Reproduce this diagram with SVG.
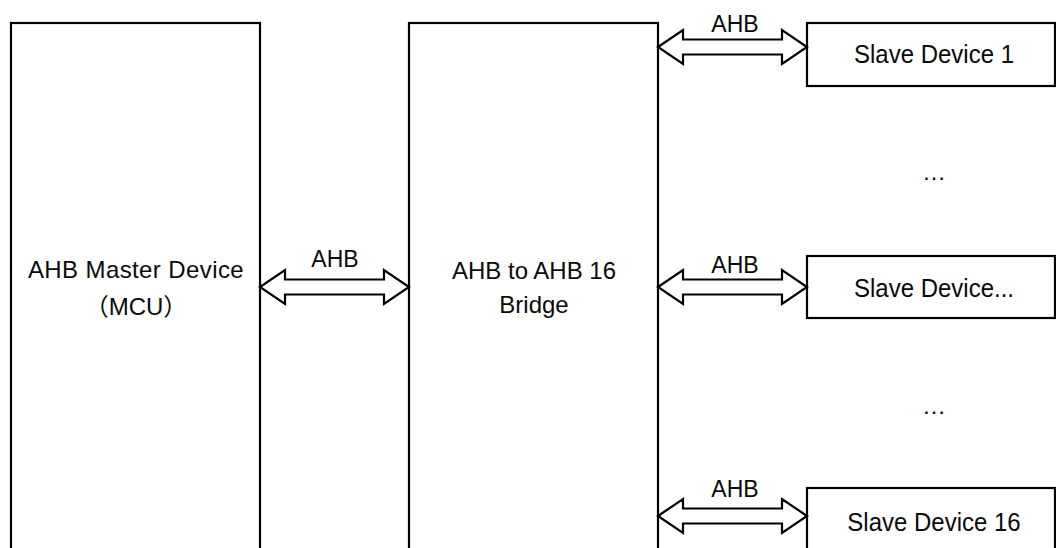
<svg xmlns="http://www.w3.org/2000/svg" width="1056" height="548" viewBox="0 0 1056 548">
<style>
.box{fill:#ffffff;stroke:#000000;stroke-width:2.2}
.arr{fill:#ffffff;stroke:#000000;stroke-width:2.2;stroke-linejoin:miter}
text{font-family:"Liberation Sans","Noto Sans CJK SC",sans-serif;font-size:24px;fill:#0a0a0a;text-anchor:middle}
.lbl{font-size:23px}
</style>
<rect width="1056" height="548" fill="#ffffff"/>
<g id="master">
<rect class="box" x="11" y="23" width="249" height="545"/>
<text x="136" y="278" letter-spacing="0.4">AHB Master Device</text>
<text x="136" y="315">（MCU）</text>
</g>
<g id="bridge">
<rect class="box" x="409" y="23" width="249" height="545"/>
<text x="534" y="279">AHB to AHB 16</text>
<text x="534" y="313">Bridge</text>
</g>
<g id="slave1">
<rect class="box" x="807" y="23" width="248" height="63"/>
<text transform="translate(934,63.3) scale(1,1.1)">Slave Device 1</text>
</g>
<g id="slave2">
<rect class="box" x="807" y="256" width="248" height="62"/>
<text transform="translate(934,297) scale(1,1.1)">Slave Device...</text>
</g>
<g id="slave16">
<rect class="box" x="807" y="488" width="248" height="80"/>
<text transform="translate(934,531) scale(1,1.1)">Slave Device 16</text>
</g>
<g id="dots">
<text x="934" y="180">…</text>
<text x="934" y="414">…</text>
</g>
<g id="connectors">
<path class="arr" d="M260,287 L285,270 L285,279.5 L384,279.5 L384,270 L409,287 L384,304 L384,294.5 L285,294.5 L285,304 Z"/>
<text class="lbl" x="335" y="267">AHB</text>
<path class="arr" d="M658,47 L683,30 L683,39.5 L782,39.5 L782,30 L807,47 L782,64 L782,54.5 L683,54.5 L683,64 Z"/>
<text class="lbl" x="735" y="32">AHB</text>
<path class="arr" d="M658,287 L683,270 L683,279.5 L782,279.5 L782,270 L807,287 L782,304 L782,294.5 L683,294.5 L683,304 Z"/>
<text class="lbl" x="735" y="273">AHB</text>
<path class="arr" d="M658,516 L683,499 L683,508.5 L782,508.5 L782,499 L807,516 L782,533 L782,523.5 L683,523.5 L683,533 Z"/>
<text class="lbl" x="735" y="497">AHB</text>
</g>
</svg>
